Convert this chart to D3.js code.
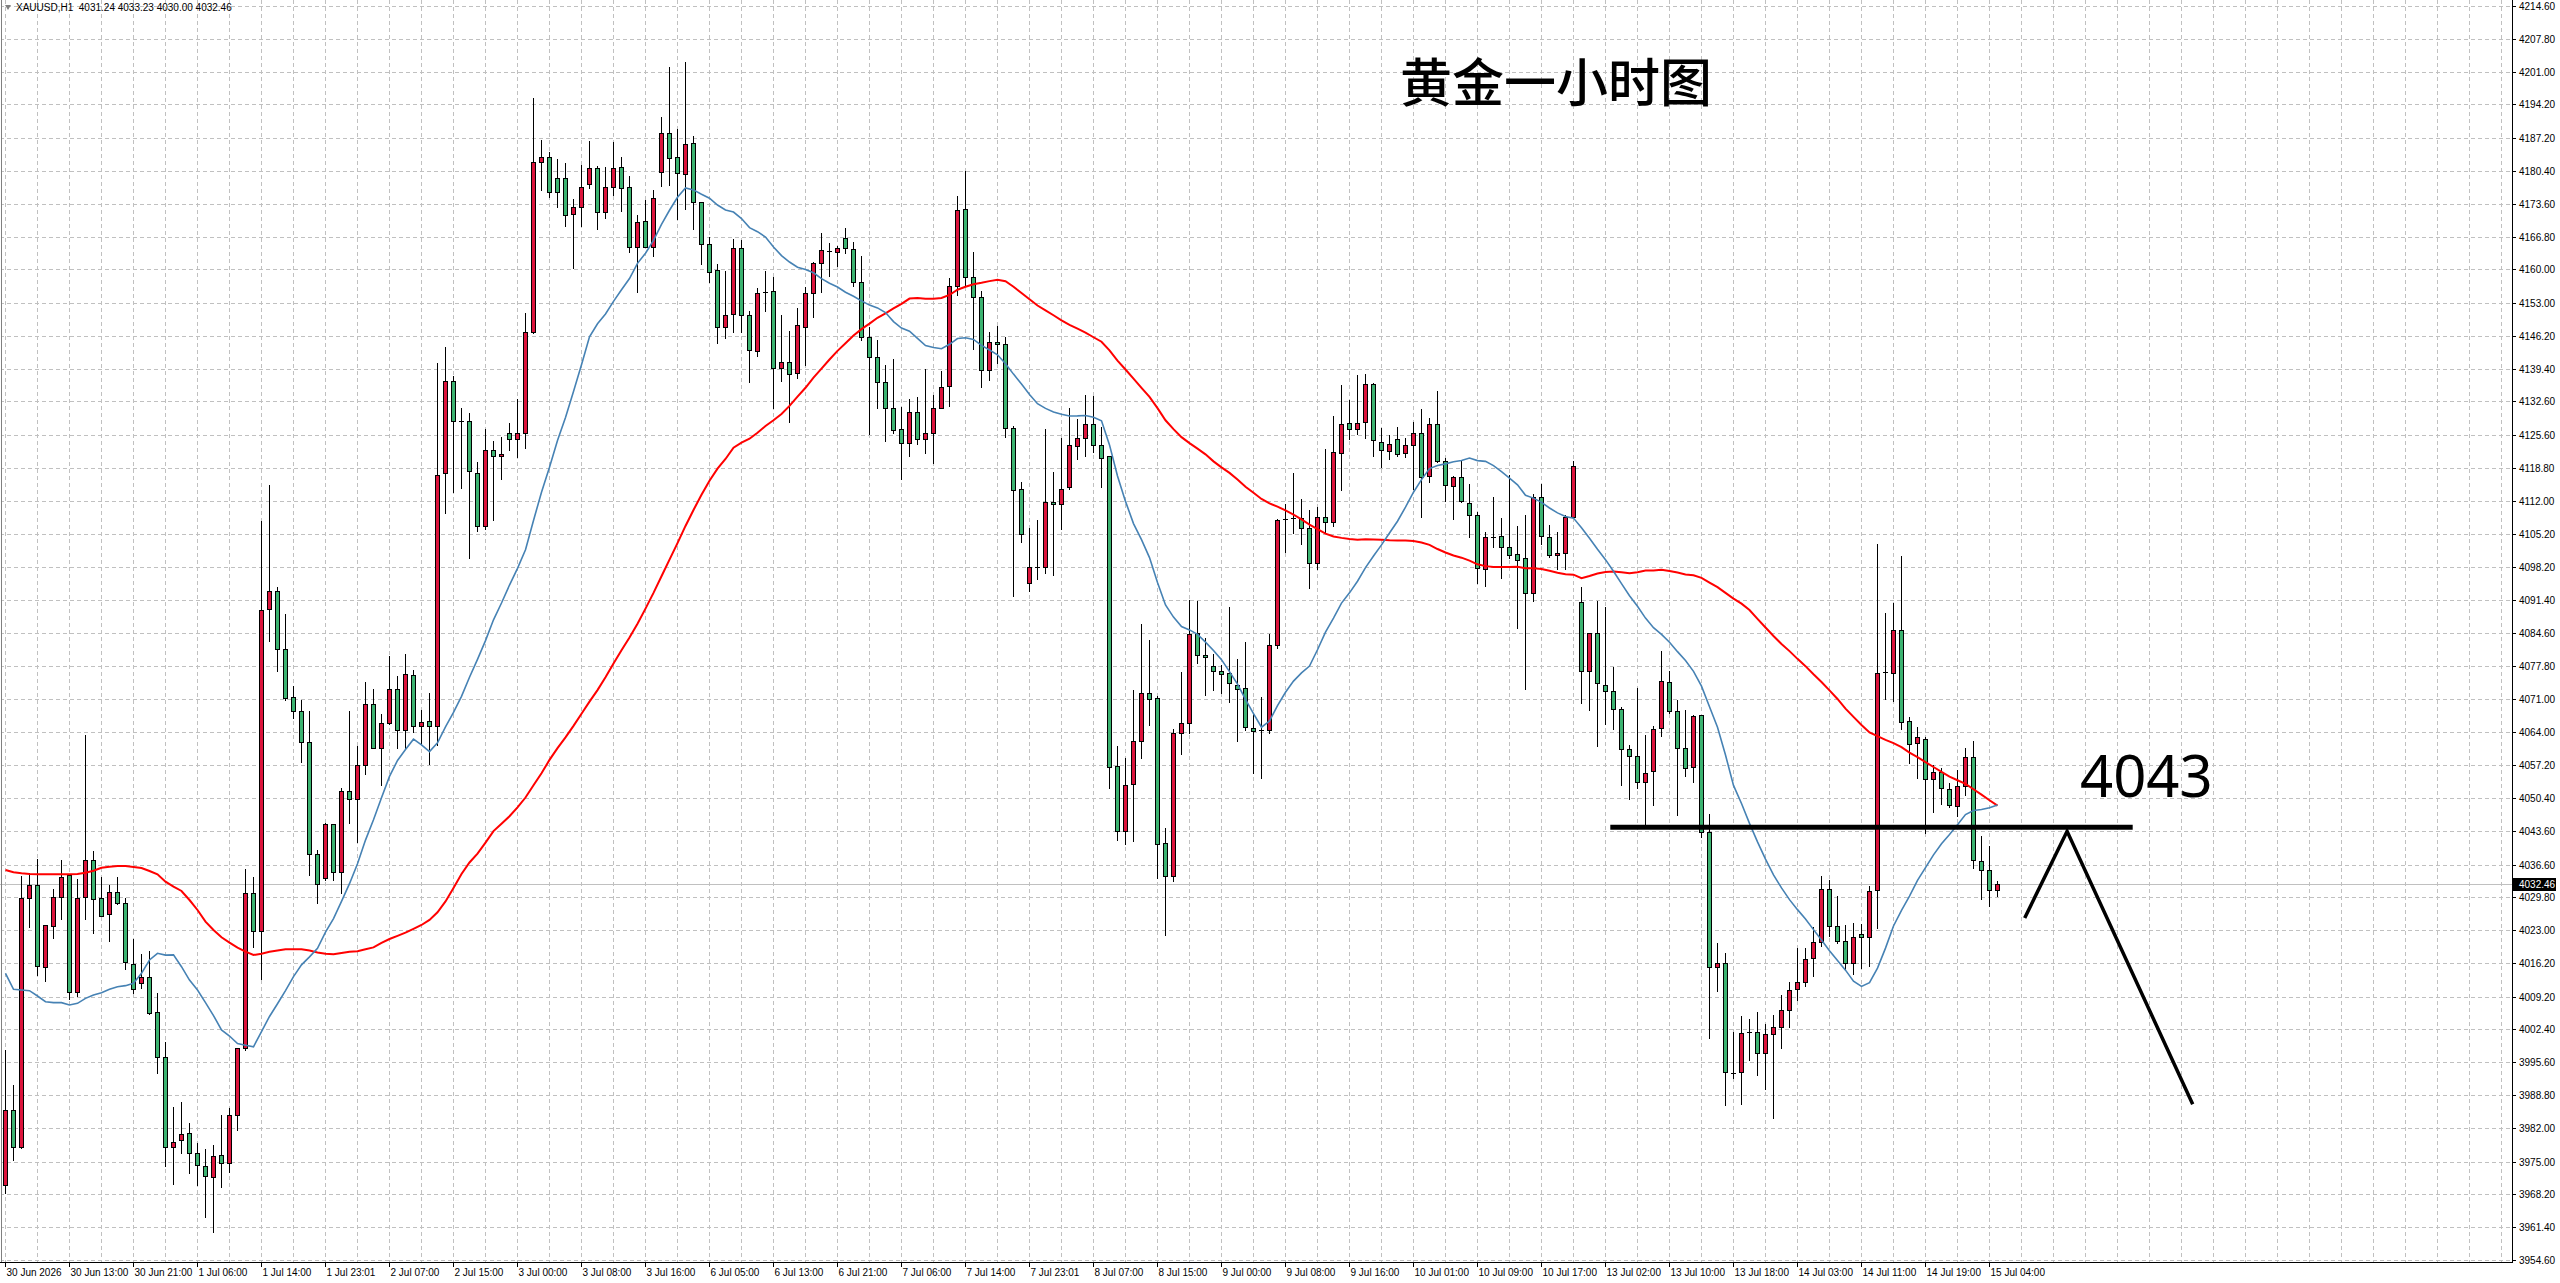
<!DOCTYPE html>
<html><head><meta charset="utf-8">
<script src="https://cdn.jsdelivr.net/npm/d3@7"></script>
<style>
html,body{margin:0;padding:0;background:#fff;overflow:hidden;}
svg{display:block;}
</style></head><body>
<svg id="chart" width="2560" height="1283"></svg>
<script>
// ---------- DATA ----------
const symbolHeader = "XAUUSD,H1  4031.24 4033.23 4030.00 4032.46";
const chartTitle = "黄金一小时图";
const lastPrice = 4032.46;

const opens = [
3970.15,3985.70,3978.10,4029.59,4032.35,4015.42,4023.92,4029.79,4034.35,4010.10,
4029.79,4037.46,4029.59,4026.27,4030.83,4028.55,4015.90,4011.96,4013.21,4005.95,
3996.62,3977.96,3979.48,3980.86,3976.72,3974.09,3971.74,3976.37,3974.64,3984.66,
3998.48,4030.67,4022.73,4089.55,4093.26,4081.22,4071.29,4068.38,4062.03,4038.87,
4033.71,4044.96,4035.04,4051.84,4050.25,4057.14,4069.97,4060.71,4066.00,4073.01,
4064.41,4075.92,4065.34,4066.40,4065.34,4117.74,4136.92,4128.59,4128.46,4117.87,
4106.76,4122.63,4121.30,4126.14,4124.75,4126.14,4147.08,4182.19,4183.36,4178.87,
4178.87,4171.41,4172.86,4177.62,4180.94,4171.96,4177.00,4181.15,4177.00,4164.70,
4170.09,4164.70,4180.25,4188.20,4183.36,4179.70,4186.13,4174.03,4165.19,4159.86,
4147.98,4150.67,4164.35,4150.46,4143.13,4155.02,4155.50,4139.61,4140.71,4138.43,
4148.11,4155.16,4161.24,4163.86,4163.66,4166.42,4164.14,4157.30,4145.90,4141.89,
4136.57,4131.17,4126.82,4123.92,4130.48,4124.75,4125.99,4131.17,4135.87,4156.61,
4172.43,4158.34,4154.33,4139.12,4144.99,4144.50,4127.09,4114.40,4094.97,4098.54,
4098.38,4111.70,4111.31,4114.80,4123.36,4125.10,4127.88,4123.52,4121.22,4057.00,
4043.52,4053.19,4062.15,4072.22,4071.03,4041.14,4034.32,4063.89,4065.88,4084.51,
4079.99,4077.77,4076.74,4076.34,4073.80,4073.17,4064.97,4064.48,4064.48,4082.11,
4108.02,4108.16,4108.37,4106.30,4099.04,4108.58,4107.68,4121.85,4128.07,4126.82,
4128.27,4136.15,4124.26,4122.33,4124.75,4121.85,4123.57,4126.13,4117.15,4127.86,
4120.26,4115.07,4116.87,4111.48,4109.06,4097.87,4104.43,4104.71,4102.39,4100.91,
4100.08,4092.95,4112.85,4104.43,4100.82,4101.29,4108.60,4091.01,4076.66,4084.62,
4073.89,4072.59,4068.79,4060.56,4059.08,4053.62,4055.93,4064.91,4074.35,4068.33,
4060.74,4056.76,4067.50,4043.34,4015.39,4016.13,3993.36,3993.63,4001.69,4001.97,
3997.50,4001.50,4003.00,4006.50,4010.71,4012.30,4017.14,4020.45,4031.44,4023.91,
4020.80,4016.10,4022.11,4021.63,4031.31,4076.23,4076.37,4085.21,4066.35,4061.72,
4062.55,4054.25,4055.84,4052.18,4048.79,4052.94,4058.95,4037.32,4035.45,4031.24
];
const highs = [
3998.14,3990.89,4034.22,4034.77,4037.67,4024.06,4031.52,4037.53,4034.35,4033.52,
4063.45,4039.40,4034.08,4032.35,4034.01,4029.59,4021.15,4017.98,4018.67,4009.89,
3999.80,3986.39,3987.29,3982.93,3978.93,3977.55,3978.44,3984.66,3986.04,3998.48,
4035.60,4033.98,4107.81,4115.36,4094.19,4088.50,4073.54,4070.63,4068.38,4039.66,
4045.22,4044.96,4052.50,4068.38,4061.10,4074.34,4073.01,4067.72,4079.89,4075.66,
4080.16,4076.98,4068.65,4072.22,4140.50,4143.81,4137.85,4131.23,4130.18,4119.99,
4126.99,4124.35,4125.30,4128.07,4133.05,4150.88,4195.46,4186.82,4184.40,4182.88,
4181.98,4174.51,4181.63,4186.61,4181.49,4181.29,4186.47,4183.22,4179.35,4171.27,
4174.38,4176.45,4191.52,4201.88,4189.03,4202.92,4187.71,4174.03,4166.77,4161.04,
4159.72,4166.22,4166.08,4151.36,4156.05,4159.65,4158.47,4150.53,4147.21,4151.91,
4156.40,4161.45,4167.46,4165.52,4164.83,4168.63,4165.59,4162.76,4148.11,4145.34,
4140.16,4141.40,4131.52,4133.11,4133.59,4139.33,4133.94,4138.91,4158.13,4175.20,
4180.38,4163.52,4155.50,4147.07,4148.25,4146.00,4127.56,4115.83,4106.31,4108.06,
4126.93,4117.97,4124.95,4131.29,4129.07,4133.91,4133.67,4127.32,4121.22,4061.12,
4058.58,4072.85,4086.49,4083.08,4071.58,4044.07,4064.69,4076.58,4091.49,4091.25,
4083.56,4080.15,4078.01,4090.06,4079.11,4082.76,4067.80,4071.39,4084.39,4108.16,
4111.27,4117.70,4112.38,4110.10,4110.79,4122.74,4129.65,4136.01,4132.90,4138.09,
4138.29,4136.36,4127.03,4125.65,4127.24,4125.09,4128.27,4130.97,4129.24,4134.77,
4120.95,4117.15,4120.26,4115.49,4109.61,4105.47,4112.86,4108.41,4117.39,4106.74,
4109.06,4113.50,4115.54,4107.02,4105.45,4109.06,4120.17,4094.06,4084.62,4091.29,
4089.90,4077.59,4069.35,4061.48,4073.24,4063.52,4065.37,4080.83,4076.76,4070.74,
4068.61,4067.68,4067.50,4047.05,4020.29,4018.16,4001.97,4005.21,4004.50,4006.00,
4003.50,4005.50,4009.50,4012.30,4019.35,4019.35,4023.56,4034.21,4033.38,4030.06,
4024.05,4024.40,4024.19,4032.20,4103.04,4088.81,4090.74,4100.56,4067.24,4065.03,
4063.10,4057.22,4056.53,4053.42,4056.19,4060.68,4062.20,4042.50,4040.43,4033.23
];
const lows = [
3968.42,3975.33,3977.80,4023.71,4013.69,4012.52,4021.43,4025.30,4008.78,4009.34,
4025.30,4022.33,4025.99,4020.81,4028.34,4014.87,4010.03,4011.06,4005.54,3993.30,
3974.09,3970.29,3976.72,3972.57,3970.08,3963.45,3960.34,3969.67,3972.91,3981.55,
3998.14,4019.43,4012.81,4082.93,4076.72,4070.63,4067.06,4057.80,4034.38,4028.69,
4033.32,4033.32,4030.67,4045.23,4041.26,4055.41,4060.71,4053.17,4065.74,4060.84,
4060.84,4064.02,4061.50,4057.53,4061.37,4109.40,4113.90,4114.70,4100.14,4105.83,
4106.09,4108.08,4116.46,4122.54,4121.16,4122.89,4146.87,4176.45,4175.07,4172.99,
4169.05,4160.34,4169.05,4176.93,4168.36,4170.71,4175.41,4172.17,4163.66,4155.37,
4164.70,4162.83,4177.35,4177.49,4170.37,4172.44,4168.36,4161.04,4157.45,4144.80,
4145.70,4147.08,4147.08,4136.57,4142.02,4151.35,4131.31,4136.84,4128.41,4137.53,
4140.16,4150.18,4155.36,4158.61,4160.69,4163.45,4156.61,4145.34,4125.85,4131.31,
4124.47,4125.99,4116.59,4121.36,4123.71,4121.85,4119.77,4131.17,4131.73,4154.67,
4156.74,4143.48,4135.67,4137.05,4140.64,4125.34,4092.20,4103.38,4093.39,4095.85,
4096.96,4096.56,4106.07,4114.48,4120.58,4121.38,4122.17,4114.80,4052.40,4041.69,
4040.90,4041.53,4058.74,4065.48,4033.76,4022.03,4033.21,4059.53,4063.89,4078.32,
4071.66,4072.77,4072.06,4070.39,4062.31,4064.45,4055.50,4054.50,4063.79,4081.42,
4101.46,4105.26,4103.05,4093.86,4097.79,4105.26,4106.85,4114.24,4124.75,4125.78,
4124.96,4121.36,4118.94,4120.60,4121.29,4121.02,4114.38,4108.58,4115.97,4120.12,
4112.03,4108.16,4111.82,4104.43,4094.89,4094.41,4102.36,4096.10,4100.08,4085.55,
4073.05,4091.29,4103.14,4100.36,4097.95,4097.77,4108.41,4070.18,4068.61,4061.20,
4065.65,4064.72,4053.06,4050.28,4052.41,4044.54,4048.99,4063.24,4067.96,4046.86,
4055.00,4053.80,4042.23,4000.58,4010.30,3986.69,3992.43,3986.97,3996.00,3993.00,
3990.00,3984.00,3998.50,4003.00,4008.50,4011.40,4013.47,4019.76,4021.84,4020.25,
4014.72,4013.89,4015.20,4015.62,4023.36,4070.84,4070.49,4064.62,4057.71,4054.46,
4043.05,4047.55,4049.14,4048.58,4046.72,4051.00,4035.80,4029.37,4028.06,4030.00
];
const closes = [
3985.70,3978.10,4029.59,4032.35,4015.63,4024.06,4029.79,4034.01,4010.10,4029.59,
4037.46,4029.38,4025.99,4030.83,4028.55,4016.32,4010.72,4013.21,4005.74,3996.76,
3977.96,3979.13,3980.65,3976.72,3974.30,3972.02,3976.16,3974.64,3984.66,3998.48,
4030.62,4022.73,4089.29,4093.26,4081.22,4071.03,4068.38,4062.03,4038.87,4032.65,
4044.96,4035.04,4051.84,4050.25,4057.14,4069.97,4060.71,4066.00,4073.01,4064.41,
4076.19,4065.34,4066.13,4065.34,4117.34,4136.92,4128.59,4128.59,4118.13,4106.76,
4122.63,4121.31,4121.64,4124.75,4126.14,4147.08,4182.32,4183.36,4175.97,4175.97,
4171.27,4172.99,4177.14,4180.94,4171.96,4177.14,4180.94,4176.80,4164.70,4169.75,
4164.70,4174.72,4188.20,4183.02,4179.90,4185.92,4174.03,4165.19,4159.52,4147.98,
4150.46,4164.35,4150.46,4143.28,4155.02,4155.22,4139.61,4140.71,4138.22,4148.45,
4155.02,4161.24,4164.00,4163.79,4164.35,4164.35,4157.30,4146.03,4141.75,4136.57,
4131.17,4126.68,4123.92,4130.35,4124.75,4125.99,4131.17,4135.67,4156.61,4172.23,
4158.47,4154.19,4139.12,4144.99,4144.51,4127.09,4114.24,4105.12,4098.38,4098.38,
4111.70,4111.31,4114.48,4123.52,4125.10,4127.88,4123.52,4120.98,4056.76,4043.52,
4053.03,4062.15,4072.22,4070.87,4040.90,4034.32,4063.89,4065.88,4084.35,4079.99,
4079.59,4076.74,4076.18,4074.20,4073.01,4065.08,4064.28,4064.42,4082.11,4108.02,
4108.16,4108.37,4106.30,4099.04,4108.58,4107.68,4122.05,4127.86,4126.82,4128.07,
4136.15,4124.61,4122.54,4123.71,4121.64,4123.50,4126.13,4116.87,4127.86,4120.26,
4115.28,4116.87,4111.96,4109.06,4098.00,4104.43,4104.57,4102.39,4100.73,4099.80,
4092.86,4112.85,4104.71,4100.73,4101.29,4108.69,4119.24,4076.66,4084.62,4074.17,
4072.59,4068.79,4060.56,4059.08,4053.80,4055.65,4064.63,4074.63,4068.33,4060.74,
4056.58,4067.41,4043.34,4015.39,4016.13,3993.63,3993.36,4001.69,4001.97,3997.50,
4001.50,4003.00,4006.50,4010.57,4012.30,4016.93,4020.45,4031.44,4023.91,4020.80,
4016.10,4021.63,4021.63,4031.17,4076.23,4076.57,4085.21,4066.21,4061.51,4062.96,
4054.25,4055.70,4052.39,4048.93,4052.94,4058.95,4037.52,4035.45,4031.31,4032.46
];

const fastPeriod = 20;   // blue line
const slowPeriod = 60;   // red line
const fastSeed = [4014.04,4010.72,4010.58,4010.44,4009.34,4008.16,4007.96,4007.96,4007.47,4007.82,
4008.85,4009.55,4010.03,4010.72,4011.27,4011.48,4011.96,4014.04,4016.80];
const slowSeed = [4035.46,4034.98,4034.77,4034.63,4034.56,4034.56,4034.56,4034.56,4034.56,4034.63,
4034.91,4035.32,4035.94,4036.15,4036.29,4036.29,4036.08,4035.87,4035.25,4034.56,
4033.04,4032.00,4031.11,4029.24,4027.17,4024.75,4023.02,4021.50,4020.39,4019.36,
4018.53,4017.84,4018.10,4018.50,4018.76,4019.03,4019.03,4019.03,4018.76,4018.37,
4018.10,4017.97,4018.23,4018.50,4018.63,4019.03,4019.42,4020.35,4021.15,4021.81,
4022.47,4023.26,4024.06,4025.12,4026.70,4028.95,4031.73,4034.64,4037.02];

const priceTicks = [4214.60,4207.80,4201.00,4194.20,4187.20,4180.40,4173.60,4166.80,4160.00,4153.00,
4146.20,4139.40,4132.60,4125.60,4118.80,4112.00,4105.20,4098.20,4091.40,4084.60,
4077.80,4071.00,4064.00,4057.20,4050.40,4043.60,4036.60,4029.80,4023.00,4016.20,
4009.20,4002.40,3995.60,3988.80,3982.00,3975.00,3968.20,3961.40,3954.60];

const timeLabels = ["30 Jun 2026","30 Jun 13:00","30 Jun 21:00","1 Jul 06:00","1 Jul 14:00","1 Jul 23:01",
"2 Jul 07:00","2 Jul 15:00","3 Jul 00:00","3 Jul 08:00","3 Jul 16:00","6 Jul 05:00","6 Jul 13:00",
"6 Jul 21:00","7 Jul 06:00","7 Jul 14:00","7 Jul 23:01","8 Jul 07:00","8 Jul 15:00","9 Jul 00:00",
"9 Jul 08:00","9 Jul 16:00","10 Jul 01:00","10 Jul 09:00","10 Jul 17:00","13 Jul 02:00","13 Jul 10:00",
"13 Jul 18:00","14 Jul 03:00","14 Jul 11:00","14 Jul 19:00","15 Jul 04:00"];
const timeLabelStep = 8; // bars between labels

// Hand-drawn annotation (bar index, price)
const levelText = "4043";
const levelPrice = 4044.3;
const levelBars = [200.6, 265.9];
const zigzagBars = [252.4, 257.7, 273.4];
const zigzagPrices = [4025.5, 4043.5, 3986.9];

// ---------- DRAWING ----------
const W = 2560, H = 1283;
const plotRight = 2512, plotBottom = 1262;
const svg = d3.select("#chart");
const n = closes.length;

const x = d3.scaleLinear().domain([0, n - 1]).range([5.5, 5.5 + 8 * (n - 1)]);
const y = d3.scaleLinear().domain([3954.60, 4214.60]).range([1260, 6]);

const upColor = "#dc143c", downColor = "#3cb371";
const gridColor = "#c0c0c0";
const font = "'Liberation Sans', Arial, sans-serif";

svg.append("rect").attr("width", W).attr("height", H).attr("fill", "#fff");

const clip = svg.append("clipPath").attr("id", "plotclip")
  .append("rect").attr("x", 1).attr("y", 0).attr("width", plotRight - 1).attr("height", plotBottom);

// grid
const grid = svg.append("g").attr("shape-rendering", "crispEdges").attr("clip-path", "url(#plotclip)");
grid.selectAll("line.h").data(priceTicks).join("line")
  .attr("x1", 0).attr("x2", plotRight)
  .attr("y1", d => Math.round(y(d)) + 0.5).attr("y2", d => Math.round(y(d)) + 0.5)
  .attr("stroke", gridColor).attr("stroke-dasharray", "4,3");
const vIdx = d3.range(0, 320, 4).filter(i => x(i) < plotRight);
grid.selectAll("line.v").data(vIdx).join("line")
  .attr("x1", d => x(d)).attr("x2", d => x(d))
  .attr("y1", 0).attr("y2", plotBottom)
  .attr("stroke", gridColor).attr("stroke-dasharray", "4,3");

// last price line
svg.append("line").attr("x1", 0).attr("x2", plotRight)
  .attr("y1", Math.round(y(lastPrice)) + 0.5).attr("y2", Math.round(y(lastPrice)) + 0.5)
  .attr("stroke", "#c0c0c0").attr("stroke-width", 1).attr("shape-rendering", "crispEdges");

// candles
const cg = svg.append("g").attr("shape-rendering", "crispEdges").attr("clip-path", "url(#plotclip)");
d3.range(n).forEach(i => {
  const cx = x(i);
  const yh = Math.round(y(highs[i])), yl = Math.round(y(lows[i]));
  cg.append("line").attr("x1", cx).attr("x2", cx).attr("y1", yh).attr("y2", yl + 1)
    .attr("stroke", "#000").attr("stroke-width", 1);
  const yo = Math.round(y(opens[i])), yc = Math.round(y(closes[i]));
  const top = Math.min(yo, yc), bot = Math.max(yo, yc);
  if (bot - top < 2) {
    cg.append("line").attr("x1", cx - 2.5).attr("x2", cx + 2.5)
      .attr("y1", yc + 0.5).attr("y2", yc + 0.5).attr("stroke", "#000");
  } else {
    cg.append("rect").attr("x", cx - 2).attr("y", top + 0.5).attr("width", 4).attr("height", bot - top)
      .attr("fill", closes[i] >= opens[i] ? upColor : downColor)
      .attr("stroke", "#000").attr("stroke-width", 1);
  }
});

// moving averages
function sma(period, seed) {
  return closes.map((c, i) => i < period - 1 ? seed[i] : d3.mean(closes.slice(i - period + 1, i + 1)));
}
const line = d3.line().x((d, i) => x(i)).y(d => y(d));
svg.append("path").attr("d", line(sma(slowPeriod, slowSeed))).attr("fill", "none")
  .attr("stroke", "#ff0000").attr("stroke-width", 2).attr("clip-path", "url(#plotclip)");
svg.append("path").attr("d", line(sma(fastPeriod, fastSeed))).attr("fill", "none")
  .attr("stroke", "#4682b4").attr("stroke-width", 1.6).attr("clip-path", "url(#plotclip)");

// annotations
svg.append("line").attr("x1", x(levelBars[0])).attr("x2", x(levelBars[1]))
  .attr("y1", y(levelPrice)).attr("y2", y(levelPrice))
  .attr("stroke", "#000").attr("stroke-width", 5);
svg.append("path")
  .attr("d", d3.line().x(d => x(d[0])).y(d => y(d[1]))(zigzagBars.map((b, i) => [b, zigzagPrices[i]])))
  .attr("fill", "none").attr("stroke", "#000").attr("stroke-width", 3.5);
svg.append("text").attr("x", 2080).attr("y", y(levelPrice) - 30)
  .attr("font-family", "'Noto Sans', 'Open Sans', sans-serif").attr("font-size", 58)
  .attr("fill", "#000").text(levelText);

// title
svg.append("text").attr("x", 1400).attr("y", 102)
  .attr("font-family", "'Noto Sans CJK SC', sans-serif").attr("font-size", 52).attr("font-weight", 500)
  .attr("fill", "#000").text(chartTitle);

// axes frame
const axg = svg.append("g").attr("shape-rendering", "crispEdges");
axg.append("line").attr("x1", plotRight + 0.5).attr("x2", plotRight + 0.5).attr("y1", 0).attr("y2", plotBottom + 1).attr("stroke", "#000");
axg.append("line").attr("x1", 0).attr("x2", plotRight + 1).attr("y1", plotBottom + 0.5).attr("y2", plotBottom + 0.5).attr("stroke", "#000");
axg.append("line").attr("x1", 1.5).attr("x2", 1.5).attr("y1", 0).attr("y2", plotBottom).attr("stroke", "#808080");

// price axis
const pa = svg.append("g");
priceTicks.forEach(p => {
  const yy = Math.round(y(p)) + 0.5;
  pa.append("line").attr("x1", plotRight).attr("x2", plotRight + 4).attr("y1", yy).attr("y2", yy)
    .attr("stroke", "#000").attr("shape-rendering", "crispEdges");
  pa.append("text").attr("x", plotRight + 7).attr("y", yy + 3.5)
    .attr("font-family", font).attr("font-size", 10).attr("fill", "#000").text(p.toFixed(2));
});
// last price marker
const ly = Math.round(y(lastPrice)) + 0.5;
pa.append("rect").attr("x", plotRight + 1).attr("y", ly - 6.5).attr("width", 43).attr("height", 13).attr("fill", "#000");
pa.append("text").attr("x", plotRight + 7).attr("y", ly + 3.5)
  .attr("font-family", font).attr("font-size", 10).attr("fill", "#fff").text(lastPrice.toFixed(2));

// time axis
const ta = svg.append("g");
timeLabels.forEach((t, k) => {
  const xx = x(k * timeLabelStep);
  ta.append("line").attr("x1", xx).attr("x2", xx).attr("y1", plotBottom).attr("y2", plotBottom + 5)
    .attr("stroke", "#000").attr("shape-rendering", "crispEdges");
  ta.append("text").attr("x", xx + 1).attr("y", plotBottom + 14)
    .attr("font-family", font).attr("font-size", 10).attr("fill", "#000").text(t);
});

// header
svg.append("path").attr("d", "M5,5 L11,5 L8,10 Z").attr("fill", "#808080");
svg.append("text").attr("x", 16).attr("y", 11)
  .attr("font-family", font).attr("font-size", 10).attr("fill", "#000").attr("xml:space", "preserve")
  .text(symbolHeader);
</script>
</body></html>
